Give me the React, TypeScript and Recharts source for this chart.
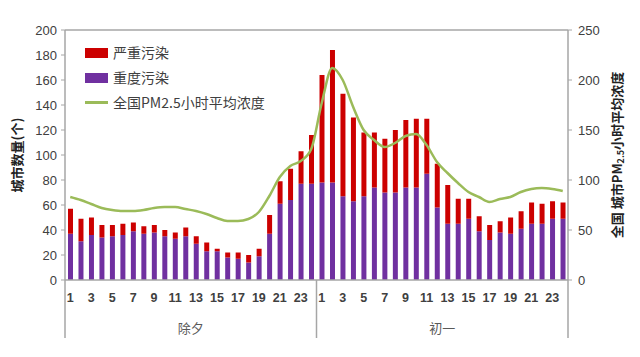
import React from "react";
import { ComposedChart, Bar, Line, XAxis, YAxis, ReferenceLine } from "recharts";

const days = ["除夕", "初一"];
const hours = [1, 2, 3, 4, 5, 6, 7, 8, 9, 10, 11, 12, 13, 14, 15, 16, 17, 18, 19, 20, 21, 22, 23, 24];

const heavyEve = [37, 31, 36, 34, 35, 36, 39, 37, 38, 35, 33, 35, 29, 23, 23, 18, 17, 14, 19, 37, 61, 64, 77, 77];
const severeEve = [20, 18, 14, 10, 9, 9, 7, 6, 6, 5, 5, 7, 6, 7, 2, 4, 5, 6, 6, 15, 18, 25, 26, 39];
const pmEve = [83, 80, 76, 72, 70, 69, 69, 70, 72, 73, 73, 71, 69, 66, 62, 59, 59, 61, 68, 84, 103, 114, 119, 131];

const heavyDay1 = [78, 78, 67, 63, 67, 74, 70, 70, 74, 74, 85, 58, 45, 45, 49, 39, 32, 38, 37, 41, 45, 45, 49, 49];
const severeDay1 = [86, 106, 82, 67, 51, 44, 43, 50, 54, 55, 44, 35, 31, 20, 16, 12, 12, 9, 13, 14, 17, 16, 14, 13];
const pmDay1 = [177, 212, 200, 173, 150, 140, 133, 137, 144, 146, 135, 118, 107, 97, 88, 83, 78, 81, 83, 88, 91, 92, 91, 89];

const leftTicks = [0, 20, 40, 60, 80, 100, 120, 140, 160, 180, 200];
const rightTicks = [0, 50, 100, 150, 200, 250];

const legendItems = [
  { name: "严重污染", color: "#cc0000", kind: "rect" },
  { name: "重度污染", color: "#7030a0", kind: "rect" },
  { name: "全国PM2.5小时平均浓度", color: "#9bbb59", kind: "line" },
];

const data = [
  ...hours.map((h, i) => ({ key: `0-${h}`, day: 0, hour: h, heavy: heavyEve[i], severe: severeEve[i], pm: pmEve[i] })),
  ...hours.map((h, i) => ({ key: `1-${h}`, day: 1, hour: h, heavy: heavyDay1[i], severe: severeDay1[i], pm: pmDay1[i] })),
];

const W = 640;
const H = 357;
const M = { top: 30, right: 0, bottom: 0, left: 0 };
const LEFT_W = 65;
const RIGHT_W = 72;
const XAXIS_H = 77;
const plotLeft = M.left + LEFT_W;
const plotRight = W - M.right - RIGHT_W;
const band = (plotRight - plotLeft) / data.length;

const AX = "#a6a6a6";
const TXT = "#404040";
const NUMFONT = "'Liberation Sans', Arial, sans-serif";
const CJK = "'Noto Sans CJK SC', sans-serif";

const XTick = (props: any) => {
  const { x, y, index } = props;
  const d = data[index];
  if (!d) return null;
  const half = band / 2;
  const els: React.ReactNode[] = [];
  if (d.hour % 2 === 1) {
    els.push(
      <text key="h" x={x} y={y + 22} textAnchor="middle" fontSize={12.5} fill={TXT} fontFamily={NUMFONT} fontWeight="bold">
        {d.hour}
      </text>
    );
  }
  if (d.hour === 1) {
    els.push(<line key="s" x1={x - half} x2={x - half} y1={y} y2={y + 58} stroke={AX} strokeWidth={1.5} />);
  }
  if (index === data.length - 1) {
    els.push(<line key="e" x1={x + half} x2={x + half} y1={y} y2={y + 58} stroke={AX} strokeWidth={1.5} />);
  }
  if (d.hour === 12) {
    els.push(
      <text key="d" x={x + half} y={y + 53} textAnchor="middle" fontSize={13} fill="#595959" fontFamily={CJK}>
        {days[d.day]}
      </text>
    );
  }
  return <g>{els}</g>;
};

const LegendBox = () => (
  <div style={{ position: "absolute", left: 85, top: 40, fontFamily: CJK, fontSize: 14, color: TXT, lineHeight: "25px" }}>
    {legendItems.map((it) => (
      <div key={it.name} style={{ display: "flex", alignItems: "center" }}>
        <span
          style={{
            display: "inline-block",
            width: 23,
            height: it.kind === "rect" ? 10 : 2.5,
            background: it.color,
            marginRight: 5,
          }}
        />
        {it.name}
      </div>
    ))}
  </div>
);

export default function App() {
  return (
    <div style={{ position: "absolute", left: 0, top: 0, width: W, height: H, background: "#fff" }}>
      <ComposedChart width={W} height={H} data={data} margin={M} barCategoryGap={0}>
        <XAxis
          dataKey="key"
          xAxisId="x"
          interval={0}
          height={XAXIS_H}
          tickLine={false}
          tickSize={0}
          tickMargin={0}
          axisLine={{ stroke: AX, strokeWidth: 1.5 }}
          tick={<XTick />}
        />
        <YAxis
          yAxisId="left"
          orientation="left"
          width={LEFT_W}
          domain={[0, 200]}
          ticks={leftTicks}
          interval={0}
          tickSize={4}
          tickMargin={4}
          axisLine={{ stroke: AX, strokeWidth: 1.5 }}
          tickLine={{ stroke: AX }}
          tick={{ fontSize: 13, fill: TXT, fontFamily: NUMFONT }}
          label={{
            value: "城市数量(个)",
            angle: -90,
            position: "insideLeft",
            offset: 17,
            style: { fontSize: 13, fontWeight: "bold", fill: "#222", fontFamily: CJK, textAnchor: "middle" },
          }}
        />
        <YAxis
          yAxisId="right"
          orientation="right"
          width={RIGHT_W}
          domain={[0, 250]}
          ticks={rightTicks}
          interval={0}
          tickSize={4}
          tickMargin={6}
          axisLine={{ stroke: AX, strokeWidth: 1.5 }}
          tickLine={{ stroke: AX }}
          tick={{ fontSize: 13, fill: TXT, fontFamily: NUMFONT, textAnchor: "start" }}
          label={(p: any) => {
            const vb = p.viewBox;
            const cx = vb.x + vb.width - 24;
            const cy = vb.y + vb.height / 2;
            return (
              <text
                x={cx}
                y={cy}
                transform={`rotate(-90 ${cx} ${cy})`}
                textAnchor="middle"
                dominantBaseline="central"
                fontSize={13}
                fontWeight="bold"
                fill="#222"
                fontFamily={CJK}
              >
                全国 城市PM
                <tspan fontSize={9} dy={4}>2.5</tspan>
                <tspan dy={-4}>小时平均浓度</tspan>
              </text>
            );
          }}
        />
        <ReferenceLine yAxisId="left" xAxisId="x" y={200} stroke={AX} strokeWidth={1.5} />
        <Bar dataKey="heavy" name="重度污染" stackId="a" yAxisId="left" xAxisId="x" fill="#7030a0" barSize={5} isAnimationActive={false} />
        <Bar dataKey="severe" name="严重污染" stackId="a" yAxisId="left" xAxisId="x" fill="#cc0000" barSize={5} isAnimationActive={false} />
        <Line
          dataKey="pm"
          name="全国PM2.5小时平均浓度"
          yAxisId="right"
          xAxisId="x"
          type="monotone"
          stroke="#9bbb59"
          strokeWidth={2.5}
          dot={false}
          isAnimationActive={false}
        />
      </ComposedChart>
      <LegendBox />
    </div>
  );
}
